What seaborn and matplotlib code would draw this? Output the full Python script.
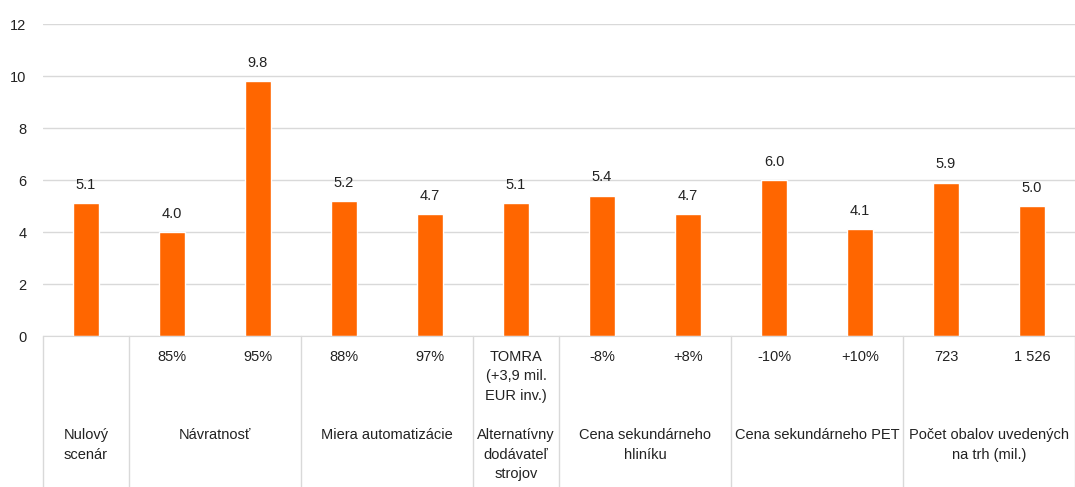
import matplotlib
matplotlib.use('Agg')
import matplotlib.pyplot as plt
import seaborn as sns
import pandas as pd

# Data
groups = ['Nulový\nscenár', 'Návratnosť', 'Miera automatizácie',
          'Alternatívny\ndodávateľ\nstrojov', 'Cena sekundárneho\nhliníku',
          'Cena sekundárneho PET', 'Počet obalov uvedených\nna trh (mil.)']
group_sizes = [1, 2, 2, 1, 2, 2, 2]
scenarios = ['', '85%', '95%', '88%', '97%', 'TOMRA\n(+3,9 mil.\nEUR inv.)',
             '-8%', '+8%', '-10%', '+10%', '723', '1 526']
values = [5.1, 4.0, 9.8, 5.2, 4.7, 5.1, 5.4, 4.7, 6.0, 4.1, 5.9, 5.0]

sns.set_style('white')
plt.rcParams['font.family'] = ['Liberation Sans', 'DejaVu Sans']
fs = 10.5
grey = '#d9d9d9'

df = pd.DataFrame({'id': [str(i) for i in range(len(values))], 'value': values})

fig = plt.figure(figsize=(10.75, 4.87), dpi=100)
ax = fig.add_axes([43/1075, 151/487, 1032/1075, 312/487])

sns.barplot(data=df, x='id', y='value', color='#ff6600', saturation=1,
            width=0.31, ax=ax)
ax.bar_label(ax.containers[0], fmt='%.1f', padding=8, fontsize=fs, color='#222222')

ax.set_ylim(0, 12)
ax.set_yticks(range(0, 13, 2))
ax.set_xlim(-0.5, len(values) - 0.5)
ax.grid(axis='y', color=grey, lw=1)
ax.set_axisbelow(True)
ax.tick_params(axis='y', length=0, pad=12, labelsize=fs, labelcolor='#222222')
ax.set_xticks(range(len(values)))
ax.set_xticklabels(scenarios, fontsize=fs, color='#222222', linespacing=1.5, va='top')
ax.tick_params(axis='x', length=0, pad=10)
ax.set_xlabel('')
ax.set_ylabel('')
for s in ['top', 'right', 'left']:
    ax.spines[s].set_visible(False)
ax.spines['bottom'].set_color(grey)

# group separators and group labels
trans = ax.get_xaxis_transform()
start = -0.5
ax.plot([start, start], [0, -0.5], transform=trans, color=grey, lw=1, clip_on=False)
for g, n in zip(groups, group_sizes):
    end = start + n
    ax.plot([end, end], [0, -0.5], transform=trans, color=grey, lw=1, clip_on=False)
    ax.text((start + end) / 2, -0.295, g, transform=trans, ha='center', va='top',
            fontsize=fs, color='#222222', linespacing=1.5)
    start = end

fig.savefig('out.png', dpi=100)
